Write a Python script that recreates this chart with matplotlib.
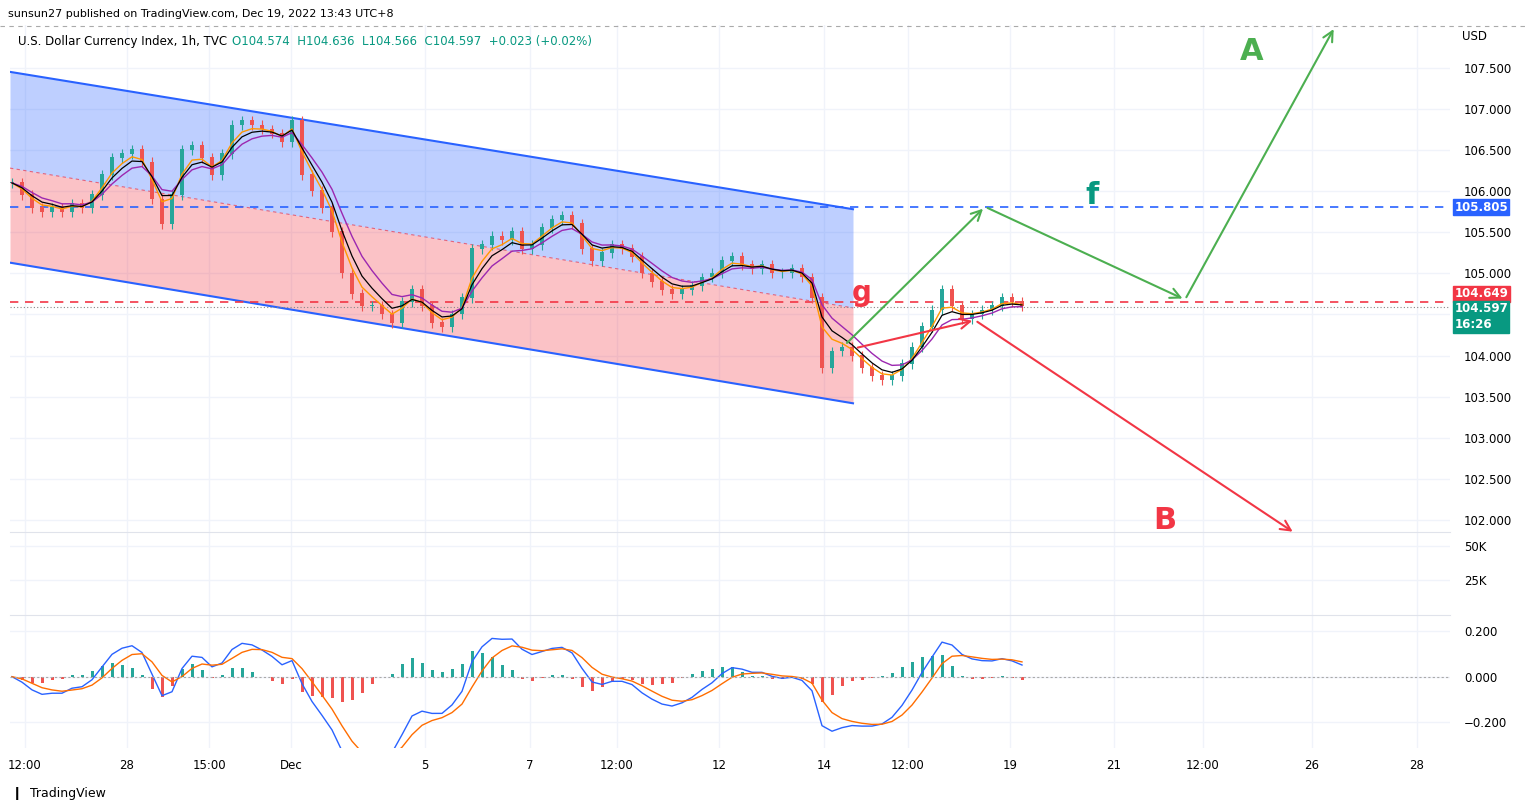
import matplotlib
matplotlib.use("Agg")
import matplotlib.pyplot as plt
import numpy as np

closes = [106.1,105.95,105.8,105.75,105.8,105.75,105.85,105.8,105.95,106.2,
106.4,106.45,106.5,106.35,105.9,105.6,105.95,106.5,106.55,106.4,
106.2,106.45,106.8,106.85,106.8,106.75,106.7,106.6,106.85,106.2,
106.0,105.8,105.5,105.0,104.75,104.6,104.6,104.5,104.4,104.65,
104.8,104.6,104.4,104.35,104.5,104.7,105.3,105.35,105.45,105.4,
105.5,105.3,105.35,105.55,105.65,105.7,105.6,105.3,105.15,105.25,
105.35,105.3,105.2,105.0,104.9,104.8,104.75,104.8,104.85,104.95,
105.0,105.15,105.2,105.1,105.05,105.1,105.0,105.0,105.05,104.95,
104.7,103.85,104.05,104.1,104.0,103.85,103.75,103.7,103.75,103.9,
104.1,104.35,104.55,104.8,104.6,104.45,104.5,104.55,104.6,104.7,
104.65,104.6]
tick_pos = [1.3,11.5,19.7,27.9,41.3,51.8,60.5,70.7,81.2,89.6,99.8,110.2,119.1,130,140.5]
tick_lbl = ["12:00","28","15:00","Dec","5","7","12:00","12","14","12:00","19","21","12:00","26","28"]
price_ticks = [102.0,102.5,103.0,103.5,104.0,104.5,105.0,105.5,106.0,106.5,107.0,107.5]

W,H = 1526,811
fig = plt.figure(figsize=(W/100,H/100),dpi=100)
def ax_px(x0,y0,x1,y1):
    return fig.add_axes([x0/W,1-y1/H,(x1-x0)/W,(y1-y0)/H])
XL = (-0.2,143.8)
GRID = "#f0f3fa"

ax = ax_px(10,25,1450,532)
ax.set_xlim(*XL); ax.set_ylim(101.855,108.02)
c = np.array(closes); o = np.r_[c[0],c[:-1]]
n = len(c); idx = np.arange(n)
for i in range(n):
    col = "#26a69a" if c[i]>=o[i] else "#ef5350"
    hi = max(o[i],c[i])+0.06; lo = min(o[i],c[i])-0.06
    ax.vlines(i,lo,hi,color=col,lw=0.8,zorder=4)
    ax.bar(i,abs(c[i]-o[i])+0.01,bottom=min(o[i],c[i]),width=0.35,color=col,zorder=4)
def ema(a,p):
    k=2/(p+1); r=[a[0]]
    for v in a[1:]: r.append(r[-1]+k*(v-r[-1]))
    return np.array(r)
ax.plot(idx,ema(c,3),color="#ff9800",lw=1,zorder=5)
ax.plot(idx,ema(c,6),color="#9c27b0",lw=1,zorder=5)
ax.plot(idx,ema(c,4),color="black",lw=0.9,zorder=5)
xs = np.array([-0.2,84.1])
up = np.array([107.45,105.78]); mid = np.array([106.28,104.58]); lo_ = np.array([105.13,103.42])
ax.fill_between(xs,mid,up,color="#2962ff",alpha=0.3,lw=0)
ax.fill_between(xs,lo_,mid,color="#f23645",alpha=0.3,lw=0)
ax.plot(xs,up,color="#2962ff",lw=1.5); ax.plot(xs,lo_,color="#2962ff",lw=1.5)
ax.plot(xs,mid,color="#f23645",lw=0.8,ls=(0,(3,3)),alpha=0.7)
ax.axhline(105.805,color="#2962ff",ls=(0,(5,4)),lw=1.2)
ax.axhline(104.649,color="#f23645",ls=(0,(5,4)),lw=1.2)
ax.axhline(104.597,color="#888",ls=(0,(1,2)),lw=0.8)
def arrow(p0,p1,col):
    ax.annotate("",xy=p1,xytext=p0,arrowprops=dict(arrowstyle="->",color=col,lw=1.5,mutation_scale=18),
                zorder=6,annotation_clip=False)
G="#4caf50"; R="#f23645"
arrow((83.3,104.13),(97.3,105.81),G)
arrow((97.3,105.81),(117.3,104.68),G)
arrow((117.3,104.68),(132.3,108.0),G)
arrow((84.3,104.09),(96.3,104.43),R)
arrow((96.3,104.43),(128.3,101.84),R)
ax.text(124,107.7,"A",color=G,fontsize=22,fontweight="bold",ha="center",va="center")
ax.text(108,105.95,"f",color="#089981",fontsize=22,fontweight="bold",ha="center",va="center")
ax.text(85,104.76,"g",color=R,fontsize=20,fontweight="bold",ha="center",va="center")
ax.text(115.3,102.0,"B",color=R,fontsize=22,fontweight="bold",ha="center",va="center")
ax.set_yticks(price_ticks)
ax.yaxis.tick_right(); ax.tick_params(axis="y",length=0,labelsize=8.5,pad=10)
ax.set_yticklabels(["" if t==104.5 else f"{t:.3f}" for t in price_ticks])
ax.set_xticks(tick_pos); ax.tick_params(axis="x",labelbottom=False,length=0)
ax.grid(color=GRID,lw=1); ax.set_axisbelow(True)
for s in ax.spines.values(): s.set_visible(False)
T = ax.get_yaxis_transform()
for ypos,txt,col in [(105.805,"105.805","#2962ff"),(104.75,"104.649","#f23645"),
                     (104.47,"104.597\n16:26","#089981")]:
    ax.text(1.003,ypos,txt,transform=T,color="white",fontsize=8.5,va="center",ha="left",fontweight="bold",
            linespacing=1.3,bbox=dict(boxstyle="square,pad=0.12",fc=col,ec=col),clip_on=False)
ax.text(1.008,107.88,"USD",transform=T,fontsize=8.5,va="center")

av = ax_px(10,532,1450,615)
av.set_xlim(*XL); av.set_ylim(0,60)
av.set_yticks([25,50]); av.set_yticklabels(["25K","50K"])
av.yaxis.tick_right(); av.tick_params(axis="y",length=0,labelsize=8.5,pad=10)
av.set_xticks(tick_pos); av.tick_params(axis="x",labelbottom=False,length=0)
av.grid(color=GRID,lw=1)
for s in av.spines.values(): s.set_visible(False)
av.spines["top"].set_visible(True); av.spines["top"].set_color("#e0e3eb")

am = ax_px(10,615,1450,748)
am.set_xlim(*XL); am.set_ylim(-0.312,0.27)
macd = (ema(c,4)-ema(c,9))*0.8
sig = ema(macd,4)
hist = macd-sig
am.bar(idx,hist,width=0.3,color=["#26a69a" if h>=0 else "#ef5350" for h in hist])
am.plot(idx,macd,color="#2962ff",lw=1)
am.plot(idx,sig,color="#ff6d00",lw=1)
am.axhline(0,color="#aaa",ls=(0,(2,2)),lw=0.8)
am.set_yticks([-0.2,0,0.2]); am.set_yticklabels(["\u22120.200","0.000","0.200"])
am.yaxis.tick_right(); am.tick_params(axis="y",length=0,labelsize=8.5,pad=10)
am.set_xticks(tick_pos); am.set_xticklabels(tick_lbl,fontsize=8.5)
am.tick_params(axis="x",length=0,pad=8)
am.grid(color=GRID,lw=1); am.set_axisbelow(True)
for s in am.spines.values(): s.set_visible(False)
am.spines["top"].set_visible(True); am.spines["top"].set_color("#e0e3eb")

fig.text(8/W,1-14/H,"sunsun27 published on TradingView.com, Dec 19, 2022 13:43 UTC+8",fontsize=8,va="center")
fig.text(18/W,1-42/H,"U.S. Dollar Currency Index, 1h, TVC",fontsize=8.5,va="center")
fig.text(232/W,1-42/H,"O104.574  H104.636  L104.566  C104.597  +0.023 (+0.02%)",fontsize=8.5,va="center",color="#089981")
fig.text(30/W,1-793/H,"TradingView",fontsize=9,va="center")
fig.text(12/W,1-793/H,"\u2759",fontsize=9,va="center")
fig.lines.append(plt.Line2D([0,1],[1-26/H,1-26/H],transform=fig.transFigure,color="#aaa",lw=0.8,ls=(0,(4,4))))
fig.savefig("out.png",dpi=100)
